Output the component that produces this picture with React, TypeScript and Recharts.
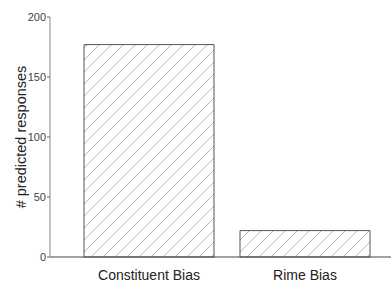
import React from "react";
import { BarChart, Bar, XAxis, YAxis } from "recharts";

const categories = ["Constituent Bias", "Rime Bias"];
const responses = [177, 22];
const yTicks = [0, 50, 100, 150, 200];

const data = categories.map((c, i) => ({ name: c, value: responses[i] }));

const FONT = "Liberation Sans, Arial, Helvetica, sans-serif";

export default function App() {
  return (
    <div style={{ position: "absolute", left: 0, top: 0, width: 391, height: 285, background: "#fff" }}>
      <BarChart
        width={391}
        height={285}
        data={data}
        margin={{ top: 17, right: 0, bottom: 0, left: 0 }}
        barSize={130}
      >
        <defs>
          <pattern id="hatch" patternUnits="userSpaceOnUse" width="12" height="12">
            <rect x="0" y="0" width="12" height="12" fill="#fff" />
            <path d="M0,12 L12,0 M-2,2 L2,-2 M10,14 L14,10" stroke="#9a9a9a" strokeWidth="0.7" />
          </pattern>
        </defs>
        <XAxis
          dataKey="name"
          height={28}
          padding={{ left: 21, right: 8 }}
          tickLine={false}
          tickSize={0}
          tickMargin={13}
          axisLine={{ stroke: "#444", strokeWidth: 1 }}
          tick={{ fill: "#222", fontSize: 14, fontFamily: FONT }}
        />
        <YAxis
          width={50}
          domain={[0, 200]}
          ticks={yTicks}
          interval={0}
          tickSize={3}
          tickMargin={1}
          axisLine={{ stroke: "#888", strokeWidth: 1 }}
          tickLine={{ stroke: "#666" }}
          tick={{ fill: "#444", fontSize: 11, fontFamily: FONT }}
          label={{
            value: "# predicted responses",
            angle: -90,
            position: "insideLeft",
            offset: 0,
            dx: 21,
            style: { textAnchor: "middle", fill: "#222", fontSize: 14.5, fontFamily: FONT },
          }}
        />
        <Bar dataKey="value" fill="url(#hatch)" stroke="#555" strokeWidth={1} isAnimationActive={false} />
      </BarChart>
    </div>
  );
}
